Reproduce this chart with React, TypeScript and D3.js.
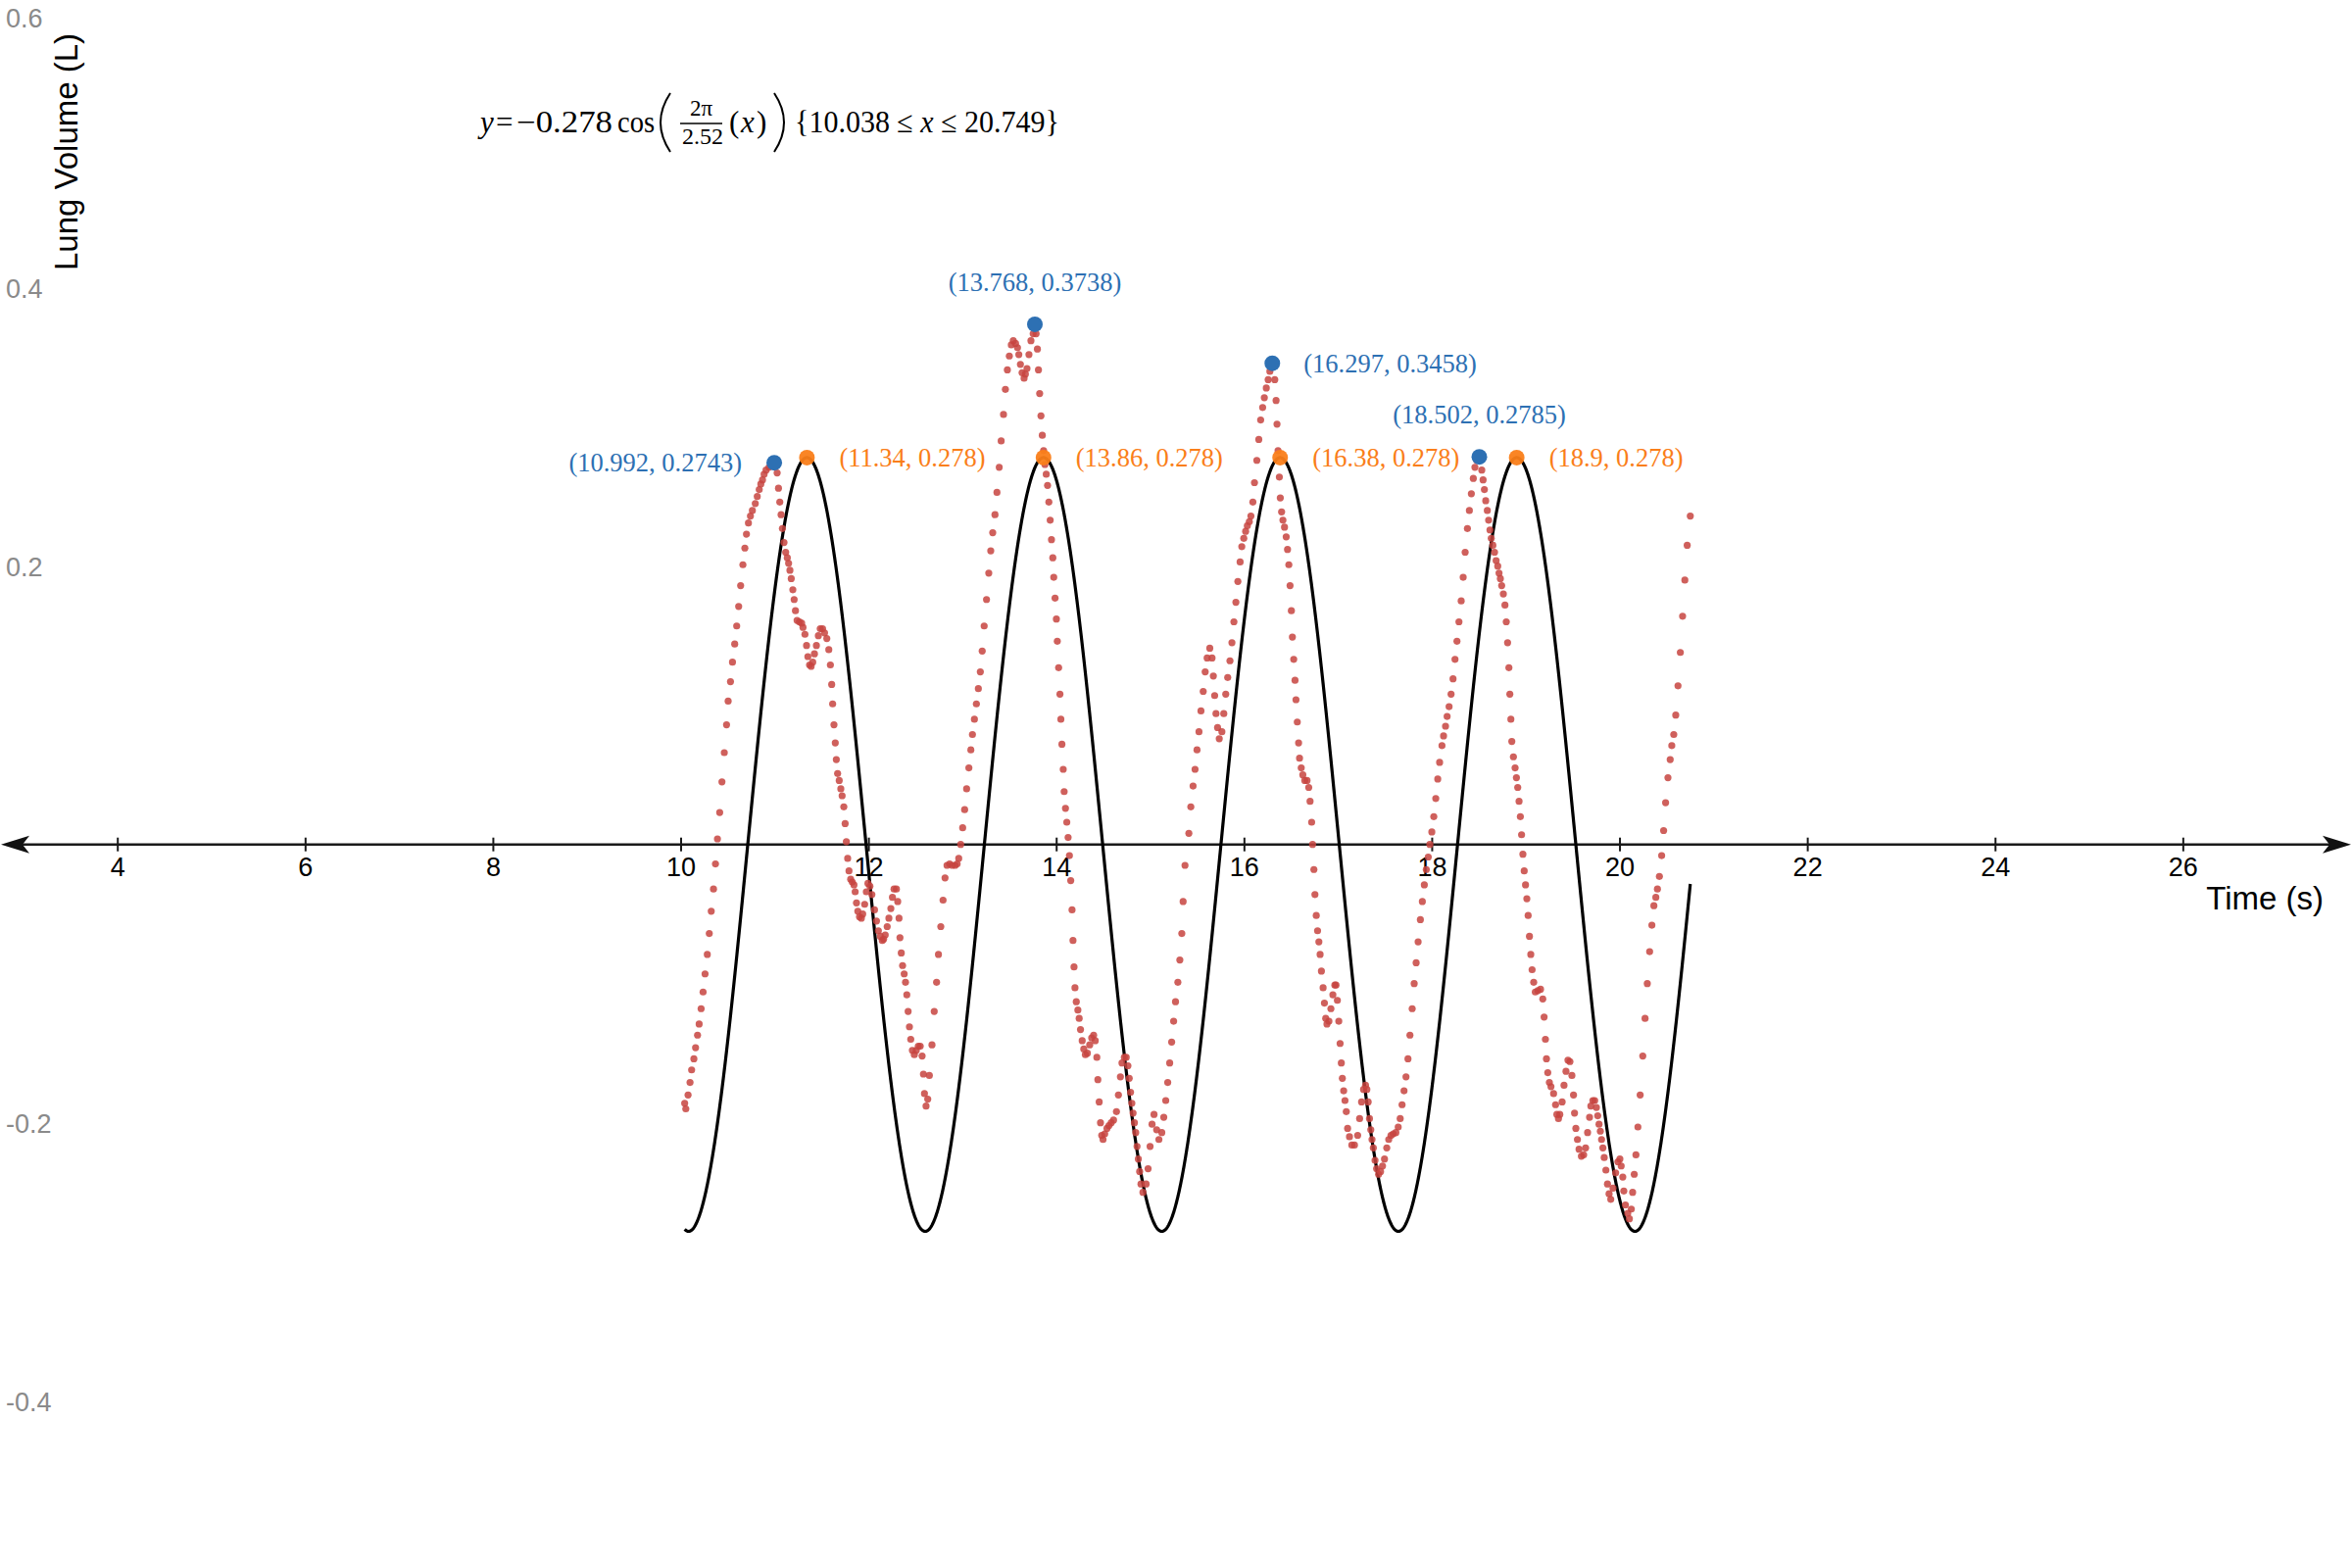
import React from 'react';
import * as d3 from 'd3';

// measured lung volume samples (time in s, volume in L)
const times = [
  10.038, 10.05, 10.074, 10.095, 10.112, 10.136, 10.154, 10.175, 10.192, 10.213, 10.234, 10.255, 10.279, 10.3, 10.321,
  10.345, 10.366, 10.387, 10.411, 10.435, 10.46, 10.484, 10.501, 10.526, 10.547, 10.571, 10.592, 10.613, 10.634, 10.658,
  10.679, 10.696, 10.717, 10.738, 10.759, 10.79, 10.811, 10.832, 10.849, 10.867, 10.884, 10.905, 10.936, 10.96, 10.992,
  11.023, 11.037, 11.051, 11.065, 11.079, 11.096, 11.114, 11.131, 11.145, 11.159, 11.173, 11.19, 11.204, 11.218, 11.235,
  11.26, 11.284, 11.298, 11.319, 11.336, 11.35, 11.368, 11.385, 11.402, 11.42, 11.441, 11.462, 11.482, 11.507, 11.528,
  11.552, 11.573, 11.59, 11.604, 11.614, 11.628, 11.642, 11.653, 11.667, 11.684, 11.701, 11.715, 11.733, 11.747, 11.76,
  11.774, 11.788, 11.806, 11.823, 11.841, 11.854, 11.868, 11.882, 11.9, 11.92, 11.934, 11.955, 11.973, 11.99, 12.011,
  12.032, 12.06, 12.081, 12.101, 12.122, 12.143, 12.157, 12.174, 12.195, 12.213, 12.234, 12.251, 12.268, 12.293, 12.307,
  12.321, 12.331, 12.345, 12.359, 12.376, 12.39, 12.404, 12.418, 12.432, 12.446, 12.463, 12.484, 12.505, 12.526, 12.547,
  12.567, 12.581, 12.592, 12.609, 12.627, 12.644, 12.672, 12.696, 12.721, 12.741, 12.766, 12.79, 12.811, 12.832, 12.86,
  12.887, 12.919, 12.94, 12.957, 12.978, 12.999, 13.02, 13.041, 13.065, 13.086, 13.103, 13.124, 13.145, 13.166, 13.187,
  13.207, 13.228, 13.253, 13.277, 13.298, 13.319, 13.343, 13.364, 13.388, 13.409, 13.434, 13.454, 13.475, 13.496, 13.517,
  13.538, 13.562, 13.583, 13.597, 13.614, 13.632, 13.653, 13.667, 13.684, 13.705, 13.726, 13.75, 13.768, 13.781, 13.795,
  13.806, 13.819, 13.833, 13.847, 13.861, 13.875, 13.889, 13.903, 13.917, 13.931, 13.945, 13.959, 13.969, 13.983, 13.997,
  14.007, 14.021, 14.035, 14.045, 14.056, 14.07, 14.08, 14.094, 14.108, 14.122, 14.136, 14.15, 14.164, 14.174, 14.185,
  14.195, 14.209, 14.226, 14.24, 14.254, 14.272, 14.289, 14.306, 14.327, 14.352, 14.373, 14.394, 14.411, 14.428, 14.439,
  14.453, 14.467, 14.48, 14.494, 14.512, 14.536, 14.557, 14.581, 14.606, 14.637, 14.658, 14.679, 14.696, 14.721, 14.741,
  14.759, 14.773, 14.787, 14.801, 14.814, 14.828, 14.842, 14.856, 14.87, 14.884, 14.898, 14.919, 14.953, 14.974, 14.995,
  15.016, 15.037, 15.065, 15.089, 15.12, 15.141, 15.162, 15.183, 15.204, 15.225, 15.246, 15.266, 15.291, 15.312, 15.333,
  15.347, 15.367, 15.408, 15.429, 15.453, 15.474, 15.495, 15.516, 15.537, 15.561, 15.582, 15.603, 15.631, 15.655, 15.669,
  15.683, 15.697, 15.714, 15.732, 15.76, 15.78, 15.801, 15.822, 15.846, 15.867, 15.888, 15.909, 15.93, 15.954, 15.972,
  15.993, 16.013, 16.031, 16.052, 16.069, 16.09, 16.107, 16.132, 16.153, 16.173, 16.194, 16.212, 16.233, 16.253, 16.271,
  16.297, 16.323, 16.337, 16.347, 16.358, 16.372, 16.382, 16.396, 16.41, 16.427, 16.445, 16.459, 16.473, 16.486, 16.5,
  16.511, 16.525, 16.539, 16.549, 16.563, 16.577, 16.587, 16.605, 16.622, 16.643, 16.667, 16.685, 16.699, 16.716, 16.726,
  16.74, 16.751, 16.765, 16.779, 16.793, 16.806, 16.82, 16.838, 16.852, 16.866, 16.879, 16.9, 16.921, 16.942, 16.963,
  16.975, 16.99, 17.005, 17.019, 17.032, 17.043, 17.057, 17.071, 17.085, 17.099, 17.119, 17.144, 17.172, 17.206, 17.227,
  17.248, 17.269, 17.29, 17.304, 17.318, 17.332, 17.346, 17.359, 17.373, 17.391, 17.408, 17.429, 17.45, 17.471, 17.492,
  17.516, 17.537, 17.561, 17.585, 17.613, 17.638, 17.659, 17.679, 17.7, 17.721, 17.742, 17.763, 17.787, 17.808, 17.829,
  17.85, 17.874, 17.895, 17.916, 17.937, 17.958, 17.975, 17.996, 18.017, 18.038, 18.059, 18.079, 18.104, 18.121, 18.142,
  18.159, 18.18, 18.201, 18.222, 18.243, 18.264, 18.285, 18.309, 18.33, 18.351, 18.375, 18.396, 18.417, 18.438, 18.455,
  18.475, 18.502, 18.528, 18.542, 18.556, 18.57, 18.587, 18.601, 18.615, 18.629, 18.646, 18.664, 18.681, 18.698, 18.712,
  18.726, 18.74, 18.758, 18.775, 18.789, 18.803, 18.817, 18.827, 18.838, 18.848, 18.865, 18.883, 18.897, 18.911, 18.925,
  18.939, 18.952, 18.966, 18.98, 18.994, 19.008, 19.022, 19.036, 19.05, 19.064, 19.081, 19.098, 19.126, 19.154, 19.178,
  19.192, 19.206, 19.217, 19.231, 19.248, 19.265, 19.293, 19.314, 19.328, 19.345, 19.359, 19.384, 19.404, 19.425, 19.446,
  19.467, 19.488, 19.505, 19.516, 19.53, 19.547, 19.564, 19.589, 19.613, 19.634, 19.655, 19.676, 19.69, 19.711, 19.731,
  19.749, 19.763, 19.777, 19.791, 19.804, 19.818, 19.832, 19.85, 19.867, 19.884, 19.902, 19.926, 19.954, 19.978, 19.999,
  20.013, 20.03, 20.041, 20.058, 20.083, 20.1, 20.121, 20.135, 20.152, 20.17, 20.191, 20.215, 20.243, 20.267, 20.291,
  20.316, 20.34, 20.361, 20.382, 20.399, 20.42, 20.444, 20.465, 20.486, 20.511, 20.535, 20.552, 20.573, 20.594, 20.618,
  20.643, 20.667, 20.691, 20.716, 20.749,
];
const volumes = [
  -0.186, -0.19, -0.18, -0.171, -0.162, -0.154, -0.146, -0.137, -0.129, -0.118, -0.106, -0.093, -0.079, -0.064, -0.048,
  -0.032, -0.014, 0.004, 0.023, 0.045, 0.066, 0.086, 0.103, 0.117, 0.131, 0.144, 0.157, 0.171, 0.186, 0.201,
  0.213, 0.223, 0.231, 0.236, 0.24, 0.245, 0.25, 0.255, 0.259, 0.262, 0.266, 0.269, 0.271, 0.272, 0.2743,
  0.267, 0.256, 0.246, 0.237, 0.227, 0.217, 0.21, 0.206, 0.202, 0.197, 0.191, 0.183, 0.176, 0.168, 0.161,
  0.16, 0.159, 0.156, 0.151, 0.143, 0.135, 0.129, 0.128, 0.131, 0.137, 0.143, 0.15, 0.155, 0.155, 0.152,
  0.148, 0.14, 0.129, 0.115, 0.101, 0.086, 0.073, 0.061, 0.051, 0.046, 0.04, 0.035, 0.027, 0.015, 0.002,
  -0.01, -0.019, -0.025, -0.027, -0.029, -0.034, -0.042, -0.048, -0.052, -0.053, -0.05, -0.043, -0.034, -0.028, -0.03,
  -0.036, -0.047, -0.055, -0.062, -0.066, -0.069, -0.068, -0.065, -0.059, -0.053, -0.046, -0.038, -0.032, -0.032, -0.041,
  -0.053, -0.067, -0.078, -0.087, -0.093, -0.099, -0.108, -0.12, -0.131, -0.14, -0.148, -0.151, -0.148, -0.145, -0.145,
  -0.152, -0.165, -0.179, -0.188, -0.183, -0.166, -0.144, -0.12, -0.099, -0.079, -0.059, -0.04, -0.024, -0.015, -0.014,
  -0.015, -0.015, -0.014, -0.01, 0.0, 0.012, 0.025, 0.04, 0.055, 0.068, 0.079, 0.09, 0.101, 0.112, 0.124,
  0.139, 0.157, 0.176, 0.195, 0.211, 0.224, 0.237, 0.253, 0.271, 0.29, 0.309, 0.327, 0.341, 0.351, 0.359,
  0.362, 0.36, 0.357, 0.352, 0.345, 0.339, 0.335, 0.338, 0.342, 0.352, 0.362, 0.367, 0.3738, 0.367, 0.356,
  0.341, 0.324, 0.308, 0.294, 0.283, 0.273, 0.266, 0.258, 0.246, 0.233, 0.219, 0.206, 0.192, 0.177, 0.162,
  0.146, 0.127, 0.108, 0.09, 0.072, 0.054, 0.038, 0.026, 0.016, 0.005, -0.008, -0.026, -0.047, -0.069, -0.088,
  -0.103, -0.113, -0.119, -0.125, -0.133, -0.141, -0.147, -0.151, -0.15, -0.144, -0.139, -0.137, -0.141, -0.153, -0.169,
  -0.185, -0.2, -0.209, -0.212, -0.208, -0.204, -0.202, -0.2, -0.198, -0.192, -0.18, -0.167, -0.157, -0.153, -0.153,
  -0.159, -0.168, -0.178, -0.186, -0.193, -0.2, -0.207, -0.217, -0.226, -0.235, -0.244, -0.25, -0.244, -0.233, -0.217,
  -0.201, -0.194, -0.205, -0.212, -0.207, -0.196, -0.184, -0.171, -0.157, -0.142, -0.127, -0.113, -0.099, -0.083, -0.064,
  -0.041, -0.015, 0.008, 0.027, 0.042, 0.054, 0.068, 0.081, 0.096, 0.11, 0.124, 0.134, 0.141, 0.134, 0.121,
  0.107, 0.094, 0.084, 0.076, 0.081, 0.094, 0.108, 0.12, 0.132, 0.145, 0.16, 0.174, 0.189, 0.203, 0.214,
  0.22, 0.225, 0.229, 0.232, 0.236, 0.246, 0.26, 0.276, 0.291, 0.305, 0.314, 0.321, 0.328, 0.334, 0.34,
  0.3458, 0.334, 0.319, 0.302, 0.283, 0.264, 0.249, 0.239, 0.233, 0.228, 0.221, 0.212, 0.201, 0.186, 0.168,
  0.149, 0.133, 0.118, 0.104, 0.088, 0.073, 0.062, 0.055, 0.05, 0.046, 0.046, 0.041, 0.031, 0.016, 0.0,
  -0.018, -0.036, -0.051, -0.062, -0.07, -0.079, -0.091, -0.103, -0.114, -0.125, -0.129, -0.127, -0.118, -0.108, -0.101,
  -0.101, -0.112, -0.127, -0.143, -0.157, -0.168, -0.177, -0.184, -0.192, -0.204, -0.21, -0.216, -0.216, -0.209, -0.197,
  -0.185, -0.176, -0.173, -0.176, -0.185, -0.197, -0.205, -0.212, -0.218, -0.227, -0.233, -0.237, -0.235, -0.231, -0.226,
  -0.218, -0.212, -0.209, -0.208, -0.207, -0.203, -0.197, -0.187, -0.177, -0.167, -0.154, -0.137, -0.118, -0.1, -0.085,
  -0.07, -0.054, -0.041, -0.029, -0.018, -0.009, 0.0, 0.009, 0.02, 0.033, 0.047, 0.059, 0.071, 0.078, 0.085,
  0.092, 0.099, 0.108, 0.119, 0.133, 0.146, 0.16, 0.175, 0.192, 0.21, 0.227, 0.24, 0.252, 0.263, 0.271,
  0.276, 0.2785, 0.269, 0.262, 0.255, 0.247, 0.24, 0.233, 0.226, 0.22, 0.215, 0.21, 0.204, 0.2, 0.195,
  0.191, 0.186, 0.18, 0.172, 0.16, 0.145, 0.127, 0.108, 0.09, 0.074, 0.063, 0.055, 0.048, 0.041, 0.031,
  0.02, 0.007, -0.007, -0.019, -0.029, -0.039, -0.051, -0.066, -0.079, -0.09, -0.099, -0.106, -0.105, -0.104, -0.111,
  -0.124, -0.14, -0.154, -0.164, -0.171, -0.174, -0.179, -0.187, -0.194, -0.197, -0.194, -0.185, -0.173, -0.163, -0.155,
  -0.156, -0.166, -0.18, -0.193, -0.204, -0.212, -0.219, -0.224, -0.223, -0.218, -0.207, -0.196, -0.188, -0.184, -0.184,
  -0.189, -0.195, -0.201, -0.206, -0.212, -0.218, -0.225, -0.234, -0.244, -0.251, -0.255, -0.247, -0.236, -0.228, -0.226,
  -0.231, -0.239, -0.249, -0.259, -0.265, -0.269, -0.262, -0.25, -0.237, -0.223, -0.203, -0.18, -0.152, -0.125, -0.1,
  -0.077, -0.058, -0.044, -0.038, -0.032, -0.023, -0.008, 0.01, 0.03, 0.048, 0.061, 0.071, 0.079, 0.093, 0.114,
  0.138, 0.164, 0.19, 0.215, 0.236,
];

// local maxima of the measured data
const peakTimes = [10.992, 13.768, 16.297, 18.502];
const peakVolumes = [0.2743, 0.3738, 0.3458, 0.2785];
const peakLabelSide = ['left', 'above', 'right', 'above'];

// maxima of the fitted cosine
const fitPeakTimes = [11.34, 13.86, 16.38, 18.9];
const fitPeakVolumes = [0.278, 0.278, 0.278, 0.278];

// fitted model  y = -A cos(2pi/T x)  on [start, end]
const fitAmplitude = 0.278;
const fitPeriod = 2.52;
const fitStart = 10.038;
const fitEnd = 20.749;

const xTicks = [4, 6, 8, 10, 12, 14, 16, 18, 20, 22, 24, 26];
const yTicks = [0.6, 0.4, 0.2, -0.2, -0.4];

const W = 2400;
const H = 1600;
const RED = '#c74440';
const BLUE = '#2d70b3';
const ORANGE = '#fa7e19';
const SERIF = '"Liberation Serif", "Times New Roman", serif';
const SANS = '"Liberation Sans", Arial, Helvetica, sans-serif';

export default function App() {
  const x = d3.scaleLinear().domain([2.7453, 27.797]).range([0, W]);
  const y = d3.scaleLinear().domain([0.6068, -0.5199]).range([0, H]);
  const y0 = y(0);

  const fitXs = d3.range(fitStart, fitEnd, 0.004).concat([fitEnd]);
  const fitLine = d3.line<number>()
    .x(d => x(d))
    .y(d => y(-fitAmplitude * Math.cos((2 * Math.PI / fitPeriod) * d)));

  const fmt = (t: number, v: number) => `(${t}, ${v})`;

  return (
    <svg width={W} height={H} style={{ position: 'absolute', left: 0, top: 0, background: '#fff' }}>
      <rect width={W} height={H} fill="#fff" />

      {/* x axis with arrows */}
      <line x1={8} x2={W - 8} y1={y0} y2={y0} stroke="#1a1a1a" strokeWidth={2.6} />
      <path d={`M${W - 1},${y0} L${W - 30},${y0 - 9} L${W - 23},${y0} L${W - 30},${y0 + 9} Z`} fill="#111" />
      <path d={`M1,${y0} L30,${y0 - 9} L23,${y0} L30,${y0 + 9} Z`} fill="#111" />
      {xTicks.map(t => (
        <g key={t}>
          <line x1={x(t)} x2={x(t)} y1={y0 - 7} y2={y0 + 7} stroke="#1a1a1a" strokeWidth={2} />
          <text x={x(t)} y={y0 + 32} textAnchor="middle" fontFamily={SANS} fontSize={27} fill="#000">{t}</text>
        </g>
      ))}
      {yTicks.map(v => (
        <text key={v} x={6} y={Math.max(y(v) + 10, 28)} fontFamily={SANS} fontSize={27} fill="#8a8a8a">{String(v)}</text>
      ))}

      {/* axis titles */}
      <text transform="translate(79,155) rotate(-90)" textAnchor="middle" fontFamily={SANS} fontSize={33} fill="#000">Lung Volume (L)</text>
      <text x={2371} y={928} textAnchor="end" fontFamily={SANS} fontSize={33} fill="#000">Time (s)</text>

      {/* fitted curve */}
      <path d={fitLine(fitXs) || ''} fill="none" stroke="#000" strokeWidth={3.2} strokeLinejoin="round" />

      {/* measured data */}
      {times.map((t, i) => (
        <circle key={i} cx={x(t)} cy={y(volumes[i])} r={3.6} fill={RED} fillOpacity={0.85} />
      ))}

      {/* data maxima */}
      {peakTimes.map((t, i) => {
        const px = x(t);
        const py = y(peakVolumes[i]);
        const side = peakLabelSide[i];
        let lx = px, ly = py + 9, anchor = 'middle';
        if (side === 'left') { lx = px - 33; anchor = 'end'; }
        if (side === 'right') { lx = px + 32; anchor = 'start'; }
        if (side === 'above') { ly = py - 34; }
        return (
          <g key={t}>
            <circle cx={px} cy={py} r={8} fill={BLUE} />
            <text x={lx} y={ly} textAnchor={anchor} fontFamily={SERIF} fontSize={26.5} fill={BLUE}>{fmt(t, peakVolumes[i])}</text>
          </g>
        );
      })}

      {/* fit maxima */}
      {fitPeakTimes.map((t, i) => {
        const px = x(t);
        const py = y(fitPeakVolumes[i]);
        return (
          <g key={t}>
            <circle cx={px} cy={py} r={8} fill={ORANGE} fillOpacity={0.95} />
            <text x={px + 33} y={py + 9} fontFamily={SERIF} fontSize={26.5} fill={ORANGE}>{fmt(t, fitPeakVolumes[i])}</text>
          </g>
        );
      })}

      {/* equation of the fit */}
      <g fontFamily={SERIF} fill="#000">
        <text x={490} y={135} fontSize={31} fontStyle="italic">y</text>
        <text x={506} y={135} fontSize={31}>=</text>
        <text x={527} y={135} fontSize={31} textLength={98} lengthAdjust="spacingAndGlyphs">{`\u2212${fitAmplitude}`}</text>
        <text x={630} y={135} fontSize={31} textLength={38} lengthAdjust="spacingAndGlyphs">cos</text>
        <path d="M684,95 Q664,125 684,155" fill="none" stroke="#000" strokeWidth={2} />
        <text x={715.5} y={118} fontSize={23} textAnchor="middle">2π</text>
        <line x1={694} x2={737} y1={126} y2={126} stroke="#000" strokeWidth={1.5} />
        <text x={717} y={147} fontSize={24} textAnchor="middle">{fitPeriod}</text>
        <text x={744} y={135} fontSize={31}>(</text>
        <text x={756} y={135} fontSize={31} fontStyle="italic">x</text>
        <text x={772} y={135} fontSize={31}>)</text>
        <path d="M790,95 Q810,125 790,155" fill="none" stroke="#000" strokeWidth={2} />
        <text x={811} y={135} fontSize={31} textLength={270} lengthAdjust="spacingAndGlyphs">
          {'{'}{fitStart} ≤ <tspan fontStyle="italic">x</tspan> ≤ {fitEnd}{'}'}
        </text>
      </g>
    </svg>
  );
}
